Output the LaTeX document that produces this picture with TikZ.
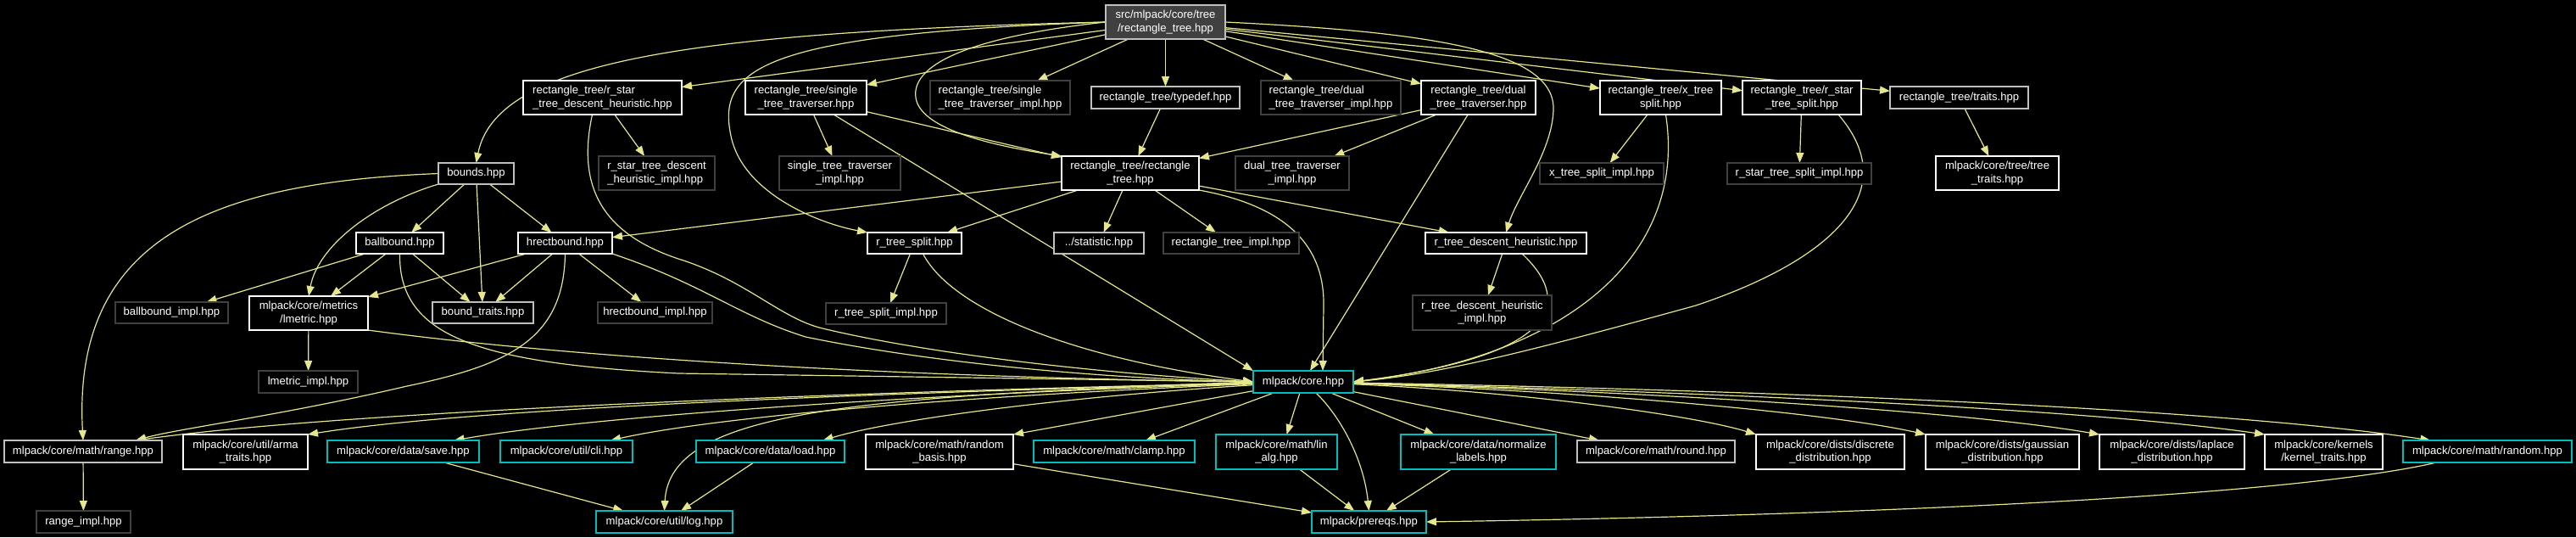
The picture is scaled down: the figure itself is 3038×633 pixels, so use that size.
\documentclass[tikz,border=0pt]{standalone}
\usepackage{fontspec}
\setmainfont{Liberation Sans}
\usetikzlibrary{arrows.meta}
\definecolor{edgec}{RGB}{230,230,140}
\definecolor{lgc}{RGB}{191,191,191}
\definecolor{dgc}{RGB}{64,64,64}
\definecolor{cyc}{RGB}{0,190,190}
\pgfdeclarelayer{bgl}
\pgfdeclarelayer{edl}
\pgfsetlayers{bgl,edl,main}
\newcommand\mknode[7]{\node[#2,minimum width=#5pt,minimum height=#6pt] (#1) at (#3,#4) {#7};}
\begin{document}
\begin{tikzpicture}[x=1pt,y=-1pt,
  every node/.style={font=\fontsize{13.1}{15.3}\selectfont, text=white},
  nb/.style={draw, rectangle, fill=black, inner sep=0pt, outer sep=0pt, line width=1.4pt, align=center},
  wbox/.style={nb, draw=white},
  gbox/.style={nb, draw=lgc},
  dbox/.style={nb, draw=dgc},
  cbox/.style={nb, draw=cyc},
  rootbox/.style={nb, draw=lgc, fill=dgc},
  e/.style={draw=edgec, line width=1.2pt, -{Triangle[length=12pt,width=9pt]}}]
\begin{pgfonlayer}{bgl}
\fill[black] (0,0) rectangle (3038,633);
\end{pgfonlayer}
\useasboundingbox (0,0) rectangle (3038,633);
% row 1
\mknode{root}{rootbox}{1374.5}{26}{141}{40}{src/mlpack/core/tree\\/rectangle\_tree.hpp}
% row 2
\mknode{rsdh}{wbox,align=left}{710.5}{115}{187}{40}{rectangle\_tree/r\_star\\\_tree\_descent\_heuristic.hpp}
\mknode{stt}{wbox}{950.5}{115}{143}{40}{rectangle\_tree/single\\\_tree\_traverser.hpp}
\mknode{stti}{dbox,align=left}{1179.5}{115}{165}{40}{rectangle\_tree/single\\\_tree\_traverser\_impl.hpp}
\mknode{typedef}{gbox}{1374.5}{115}{175}{26}{rectangle\_tree/typedef.hpp}
\mknode{dtti}{dbox,align=left}{1569.5}{115}{165}{40}{rectangle\_tree/dual\\\_tree\_traverser\_impl.hpp}
\mknode{dtt}{wbox}{1743.5}{115}{135}{40}{rectangle\_tree/dual\\\_tree\_traverser.hpp}
\mknode{xts}{wbox}{1958.5}{115}{143}{40}{rectangle\_tree/x\_tree\\split.hpp}
\mknode{rsts}{wbox}{2125}{115}{140}{40}{rectangle\_tree/r\_star\\\_tree\_split.hpp}
\mknode{traits}{gbox}{2310.5}{115}{163}{26}{rectangle\_tree/traits.hpp}
% row 3
\mknode{bounds}{gbox}{561.5}{204.5}{89}{25}{bounds.hpp}
\mknode{rsdhi}{dbox,align=left}{774.5}{204}{137}{40}{r\_star\_tree\_descent\\\_heuristic\_impl.hpp}
\mknode{stti2}{dbox}{990.5}{204}{143}{40}{single\_tree\_traverser\\\_impl.hpp}
\mknode{rect}{wbox}{1333}{204}{162}{40}{rectangle\_tree/rectangle\\\_tree.hpp}
\mknode{dtti2}{dbox}{1524}{204}{134}{40}{dual\_tree\_traverser\\\_impl.hpp}
\mknode{xtsi}{dbox}{1889}{204.5}{146}{25}{x\_tree\_split\_impl.hpp}
\mknode{rstsi}{dbox}{2122}{204.5}{170}{25}{r\_star\_tree\_split\_impl.hpp}
\mknode{ttraits}{wbox}{2355.5}{204}{145}{40}{mlpack/core/tree/tree\\\_traits.hpp}
% row 4
\mknode{ballbound}{wbox}{471.5}{286.5}{103}{25}{ballbound.hpp}
\mknode{hrect}{wbox}{666.5}{286.5}{111}{25}{hrectbound.hpp}
\mknode{rts}{wbox}{1078.5}{286.5}{111}{25}{r\_tree\_split.hpp}
\mknode{stat}{gbox}{1296}{286.5}{106}{25}{../statistic.hpp}
\mknode{rti}{dbox}{1452}{286.5}{160}{25}{rectangle\_tree\_impl.hpp}
\mknode{rtdh}{wbox}{1776}{286.5}{190}{25}{r\_tree\_descent\_heuristic.hpp}
% row 5
\mknode{bbi}{dbox}{202.5}{368.5}{133}{25}{ballbound\_impl.hpp}
\mknode{lmetric}{wbox}{364}{369}{140}{40}{mlpack/core/metrics\\/lmetric.hpp}
\mknode{btraits}{gbox}{569.5}{368.5}{119}{25}{bound\_traits.hpp}
\mknode{hbi}{dbox}{772.5}{368.5}{135}{25}{hrectbound\_impl.hpp}
\mknode{rtsi}{dbox}{1045}{369.5}{142}{25}{r\_tree\_split\_impl.hpp}
\mknode{rtdhi}{dbox}{1748}{368.5}{164}{41}{r\_tree\_descent\_heuristic\\\_impl.hpp}
% row 6
\mknode{lmi}{dbox}{363.5}{450}{117}{26}{lmetric\_impl.hpp}
\mknode{core}{cbox}{1537}{450}{118}{26}{mlpack/core.hpp}
% row 7
\mknode{range}{gbox}{98}{532}{186}{26}{mlpack/core/math/range.hpp}
\mknode{arma}{wbox}{289.5}{532.5}{147}{41}{mlpack/core/util/arma\\\_traits.hpp}
\mknode{save}{cbox}{475.5}{532}{179}{26}{mlpack/core/data/save.hpp}
\mknode{cli}{cbox}{668}{532}{156}{26}{mlpack/core/util/cli.hpp}
\mknode{load}{cbox}{908.5}{532}{175}{26}{mlpack/core/data/load.hpp}
\mknode{rbasis}{wbox}{1108}{532.5}{174}{41}{mlpack/core/math/random\\\_basis.hpp}
\mknode{clamp}{cbox}{1314}{532}{190}{26}{mlpack/core/math/clamp.hpp}
\mknode{linalg}{cbox}{1505.5}{532.5}{143}{41}{mlpack/core/math/lin\\\_alg.hpp}
\mknode{norm}{cbox}{1743.5}{532.5}{183}{41}{mlpack/core/data/normalize\\\_labels.hpp}
\mknode{rnd}{gbox}{1953}{532}{186}{26}{mlpack/core/math/round.hpp}
\mknode{discrete}{wbox}{2158.5}{532.5}{175}{41}{mlpack/core/dists/discrete\\\_distribution.hpp}
\mknode{gauss}{wbox}{2361.5}{532.5}{181}{41}{mlpack/core/dists/gaussian\\\_distribution.hpp}
\mknode{laplace}{wbox}{2561.5}{532.5}{171}{41}{mlpack/core/dists/laplace\\\_distribution.hpp}
\mknode{kernel}{wbox}{2740.5}{532.5}{139}{41}{mlpack/core/kernels\\/kernel\_traits.hpp}
\mknode{random}{cbox}{2933.5}{532}{199}{26}{mlpack/core/math/random.hpp}
% row 8
\mknode{rimpl}{dbox}{98.5}{615}{111}{26}{range\_impl.hpp}
\mknode{log}{cbox}{783.5}{615}{161}{26}{mlpack/core/util/log.hpp}
\mknode{prereqs}{cbox}{1614.5}{615}{135}{26}{mlpack/prereqs.hpp}

\begin{pgfonlayer}{edl}
% root
\draw[e] (root.west) .. controls (800,38) and (585,75) .. (bounds.north);
\draw[e] (root) -- (rsdh);
\draw[e] (root) -- (stt);
\draw[e] (root) -- (stti);
\draw[e] (root) -- (typedef);
\draw[e] (root) -- (dtti);
\draw[e] (root) -- (dtt);
\draw[e] (root) -- (xts);
\draw[e] (root) -- (rsts);
\draw[e] (root) -- (traits);
\draw[e] (root.west) .. controls (900,40) and (845,80) .. (862,160) .. controls (875,225) and (960,262) .. (rts.north west);
\draw[e] (root.west) .. controls (1130,45) and (1075,80) .. (1080,115) .. controls (1085,150) and (1160,170) .. (rect.north west);
\draw[e] (root.east) .. controls (1690,38) and (1835,60) .. (1832,130) .. controls (1830,180) and (1790,230) .. (rtdh.north);
% bounds
\draw[e] (bounds.west) .. controls (250,215) and (85,280) .. (range.north);
\draw[e] (bounds.south west) .. controls (440,240) and (375,290) .. (lmetric.north);
\draw[e] (bounds) -- (ballbound);
\draw[e] (bounds) -- (hrect);
\draw[e] (bounds) -- (btraits);
% ballbound
\draw[e] (ballbound) -- (bbi);
\draw[e] (ballbound) -- (lmetric);
\draw[e] (ballbound) -- (btraits);
\draw[e] (ballbound.south) .. controls (470,395) and (560,428) .. (800,440) -- (core.west);
% hrectbound
\draw[e] (hrect) -- (lmetric);
\draw[e] (hrect) -- (btraits);
\draw[e] (hrect) -- (hbi);
\draw[e] (hrect.south east) .. controls (830,335) and (870,372) .. (950,397) .. controls (1100,428) and (1300,446) .. (core.west);
\draw[e] (hrect.south) .. controls (665,400) and (600,430) .. (480,455) .. controls (330,490) and (210,505) .. ([xshift=62pt]range.north);
% lmetric
\draw[e] (lmetric) -- (lmi);
\draw[e] (lmetric.south east) .. controls (700,425) and (1100,445) .. (core.west);
% row 2 children
\draw[e] (rsdh) -- (rsdhi);
\draw[e] ([xshift=-12pt]rsdh.south) .. controls (680,220) and (710,275) .. (800,305) .. controls (880,330) and (920,375) .. (970,387) .. controls (1100,418) and (1300,440) .. (core.west);
\draw[e] (stt) -- (stti2);
\draw[e] (stt) -- (rect);
\draw[e] (stt) -- (core.north west);
\draw[e] (typedef) -- (rect);
\draw[e] (dtt) -- (rect);
\draw[e] (dtt) -- (dtti2);
\draw[e] (dtt) -- (core);
\draw[e] (xts) -- (xtsi);
\draw[e] ([xshift=6pt]xts.south) .. controls (1990,300) and (1850,420) .. (core.east);
\draw[e] (rsts) -- (rstsi);
\draw[e] ([xshift=43pt]rsts.south) .. controls (2250,230) and (2150,310) .. (2000,360) .. controls (1800,415) and (1700,440) .. (core.east);
\draw[e] (traits) -- (ttraits);
% rectangle tree
\draw[e] (rect) -- (hrect);
\draw[e] (rect) -- (rts);
\draw[e] (rect) -- (stat);
\draw[e] (rect) -- (rti);
\draw[e] (rect) -- (rtdh);
\draw[e] (rect.south east) .. controls (1530,245) and (1562,300) .. (1561,360) -- ([xshift=23pt]core.north);
\draw[e] (rts) -- (rtsi);
\draw[e] ([xshift=10pt]rts.south) .. controls (1120,360) and (1250,420) .. (core.west);
\draw[e] (rtdh) -- (rtdhi);
\draw[e] ([xshift=19pt]rtdh.south) .. controls (1860,360) and (1830,420) .. (core.east);
% core
\draw[e] (core) .. controls (1000,462) and (400,485) .. ([xshift=62pt]range.north);
\draw[e] (core) .. controls (1000,464) and (550,482) .. (arma.north east);
\draw[e] (core) .. controls (1100,464) and (700,490) .. ([xshift=60pt]save.north);
\draw[e] (core) .. controls (1150,466) and (850,490) .. ([xshift=52pt]cli.north);
\draw[e] (core) .. controls (1250,468) and (1050,495) .. ([xshift=62pt]load.north);
\draw[e] (core.west) .. controls (1000,468) and (790,485) .. (log.north);
\draw[e] (core) -- (rbasis.north east);
\draw[e] (core) -- ([xshift=37pt]clamp.north);
\draw[e] (core) -- ([xshift=12pt]linalg.north);
\draw[e] ([xshift=15pt]core.south) .. controls (1580,490) and (1608,540) .. (prereqs.north);
\draw[e] (core) -- ([xshift=-52pt]norm.north);
\draw[e] (core) -- ([xshift=-67pt]rnd.north);
\draw[e] (core) .. controls (1800,462) and (2000,490) .. (discrete.north west);
\draw[e] (core) .. controls (1850,460) and (2150,485) .. (gauss.north west);
\draw[e] (core) .. controls (1900,460) and (2300,482) .. (laplace.north west);
\draw[e] (core) .. controls (1950,460) and (2450,480) .. (kernel.north west);
\draw[e] (core) .. controls (2000,458) and (2600,478) .. ([xshift=-67pt]random.north);
% bottom
\draw[e] (range) -- (rimpl);
\draw[e] (save) -- (log);
\draw[e] (load) -- (log);
\draw[e] (rbasis) -- (prereqs);
\draw[e] (linalg) -- (prereqs);
\draw[e] (norm) -- (prereqs);
\draw[e] ([xshift=-60pt]random.south) .. controls (2700,585) and (2200,607) .. (prereqs.east);
\end{pgfonlayer}
\end{tikzpicture}
\end{document}
